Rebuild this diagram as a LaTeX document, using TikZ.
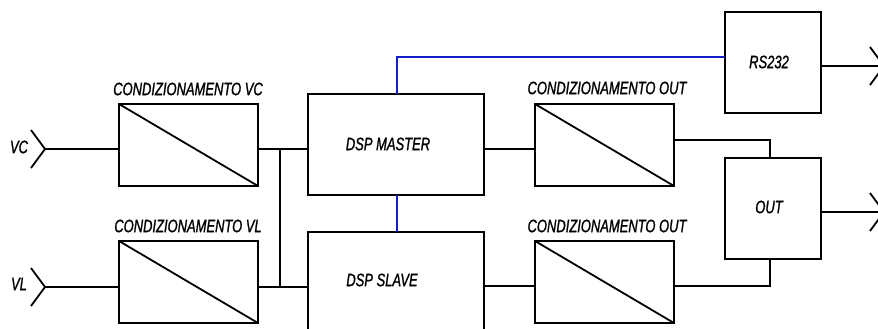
\documentclass[tikz,border=0pt]{standalone}
\usepackage{fontspec}
\setmainfont{Liberation Sans}[FakeStretch=0.72,FakeBold=1.2]
\usetikzlibrary{calc}
\definecolor{busblue}{RGB}{20,30,200}
\begin{document}
\begin{tikzpicture}[x=1pt,y=-1pt,
  blk/.style={draw=black,line width=2pt,fill=white,inner sep=0pt,outer sep=0pt},
  wire/.style={line width=1.8pt,black},
  bluewire/.style={line width=1.6pt,busblue},
  lbl/.style={font=\fontsize{18}{20}\selectfont\itshape,inner sep=0pt},
  ]
\useasboundingbox (0,0) rectangle (878,329);
\clip (0,0) rectangle (878,329);
% rows
\coordinate (r1) at (0,149);
\coordinate (r2) at (0,287);
\coordinate (bus) at (280,0);
\coordinate (jn) at (770,0);
% blocks
\node[blk,minimum width=139pt,minimum height=82pt] (cvc) at (188.5,145) {};
\node[blk,minimum width=139pt,minimum height=82pt] (cvl) at (188.5,282) {};
\node[blk,minimum width=176pt,minimum height=101pt] (dm) at (396,144.5) {};
\node[blk,minimum width=176pt,minimum height=110pt] (ds) at (396,287) {};
\node[blk,minimum width=139pt,minimum height=82pt] (co1) at (604.5,145) {};
\node[blk,minimum width=139pt,minimum height=82pt] (co2) at (604.5,282) {};
\node[blk,minimum width=96pt,minimum height=101pt] (rs) at (773,62.5) {};
\node[blk,minimum width=96pt,minimum height=101pt] (out) at (773,208.5) {};
% diagonals
\foreach \b in {cvc,cvl,co1,co2}{\draw[wire] (\b.north west) -- (\b.south east);}
% texts
\node[lbl] (tcvc) at (188,89) {CONDIZIONAMENTO VC};
\node[lbl] (tcvl) at (188,226) {CONDIZIONAMENTO VL};
\node[lbl] (tco1) at (607,88) {CONDIZIONAMENTO OUT};
\node[lbl] (tco2) at (607,226) {CONDIZIONAMENTO OUT};
\node[lbl] (tdm) at (388,144) {DSP MASTER};
\node[lbl] (tds) at (382,280) {DSP SLAVE};
\node[lbl] (trs) at (769,62) {RS232};
\node[lbl] (tout) at (769,207) {OUT};
\node[lbl] (tvc) at (19,147) {VC};
\node[lbl] (tvl) at (19,284) {VL};
% inputs
\coordinate (vcin) at (45,149);
\coordinate (vlin) at (45,287);
\foreach \c in {vcin,vlin}{\draw[wire] ([shift={(-14,-19)}]\c) -- (\c) -- ([shift={(-14,19)}]\c);}
\draw[wire] (vcin) -- (cvc.west |- r1);
\draw[wire] (vlin) -- (cvl.west |- r2);
% to DSPs
\draw[wire] (cvc.east |- r1) -- (dm.west |- r1);
\draw[wire] (cvl.east |- r2) -- (ds.west |- r2);
\draw[wire] (bus |- r1) -- (bus |- r2);
% DSP to cond out
\draw[wire] (dm.east |- r1) -- (co1.west |- r1);
\draw[wire] (ds.east |- 0,286) -- (co2.west |- 0,286);
% cond out to OUT
\draw[wire] (co1.east |- 0,140) -- (jn |- 0,140) -- (jn |- out.north);
\draw[wire] (co2.east |- 0,286) -- (jn |- 0,286) -- (jn |- out.south);
% blue links
\coordinate (bx) at (397,0);
\draw[bluewire] (bx |- dm.north) -- (bx |- 0,57) -- (rs.west |- 0,57);
\draw[bluewire] (bx |- dm.south) -- (bx |- ds.north);
% outputs
\coordinate (o1) at (884,66);
\coordinate (o2) at (884,212);
\draw[wire] (rs.east |- o1) -- (o1);
\draw[wire] (out.east |- o2) -- (o2);
\foreach \c in {o1,o2}{\draw[wire] ([shift={(-14,-19)}]\c) -- (\c) -- ([shift={(-14,19)}]\c);}
\end{tikzpicture}
\end{document}
